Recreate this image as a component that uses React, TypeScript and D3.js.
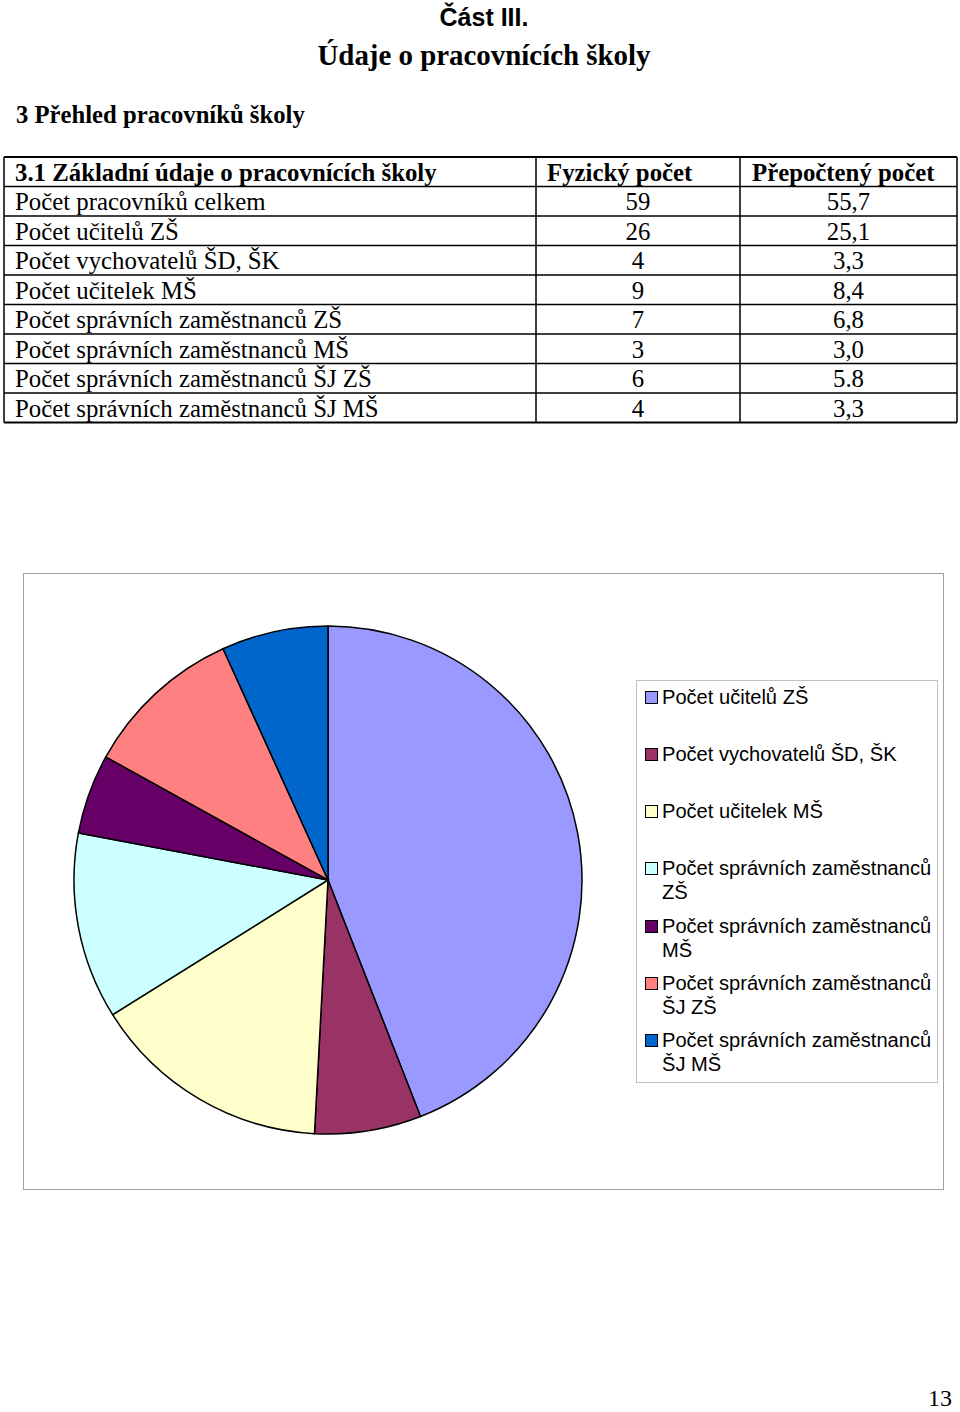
import React from "react";
import * as d3 from "d3";

const tableHeader = ["3.1 Základní údaje o pracovnících školy", "Fyzický počet", "Přepočtený počet"];
const rowLabels = [
  "Počet pracovníků celkem",
  "Počet učitelů ZŠ",
  "Počet vychovatelů ŠD, ŠK",
  "Počet učitelek MŠ",
  "Počet správních zaměstnanců ZŠ",
  "Počet správních zaměstnanců MŠ",
  "Počet správních zaměstnanců ŠJ ZŠ",
  "Počet správních zaměstnanců ŠJ MŠ",
];
const physical = ["59", "26", "4", "9", "7", "3", "6", "4"];
const converted = ["55,7", "25,1", "3,3", "8,4", "6,8", "3,0", "5.8", "3,3"];

const pieCategories = [
  ["Počet učitelů ZŠ"],
  ["Počet vychovatelů ŠD, ŠK"],
  ["Počet učitelek MŠ"],
  ["Počet správních zaměstnanců", "ZŠ"],
  ["Počet správních zaměstnanců", "MŠ"],
  ["Počet správních zaměstnanců", "ŠJ ZŠ"],
  ["Počet správních zaměstnanců", "ŠJ MŠ"],
];
const pieValues = [26, 4, 9, 7, 3, 6, 4];
const pieColors = ["#9999FF", "#993366", "#FFFFCC", "#CCFFFF", "#660066", "#FF8080", "#0066CC"];

const serif = "'Liberation Serif', 'Times New Roman', serif";
const sans = "'Liberation Sans', Arial, sans-serif";

export default function App() {
  const tX = [4, 536, 740, 957];
  const tY0 = 157;
  const rowH = 29.5;
  const nRows = rowLabels.length + 1;
  const yRow = d3.scaleLinear().domain([0, nRows]).range([tY0, tY0 + nRows * rowH]);
  const fs = 24.8;

  const cx = 328, cy = 880, r = 254;
  const pieGen = d3.pie<number>().sort(null).value((d) => d);
  const arcs = pieGen(pieValues);
  const arcGen = d3.arc<d3.PieArcDatum<number>>().innerRadius(0).outerRadius(r);

  const legendItemY = [697, 754, 811, 868, 926, 983, 1040];

  return (
    <svg width={960} height={1412} style={{ position: "absolute", left: 0, top: 0, background: "#fff" }}>
      <rect x={0} y={0} width={960} height={1412} fill="#fff" />
      <text x={484} y={26} textAnchor="middle" fontFamily={sans} fontWeight="bold" fontSize={25}>Část III.</text>
      <text x={484} y={65} textAnchor="middle" fontFamily={serif} fontWeight="bold" fontSize={28.9}>Údaje o pracovnících školy</text>
      <text x={16} y={123} fontFamily={serif} fontWeight="bold" fontSize={24.7}>3 Přehled pracovníků školy</text>

      <g>
        {d3.range(nRows + 1).map((i) => (
          <line key={"h" + i} x1={tX[0]} x2={tX[3]} y1={yRow(i)} y2={yRow(i)} stroke="#000" strokeWidth={i === 0 || i === nRows ? 1.8 : 1.3} />
        ))}
        {tX.map((x, i) => (
          <line key={"v" + i} x1={x} x2={x} y1={yRow(0)} y2={yRow(nRows)} stroke="#000" strokeWidth={1.5} />
        ))}
        <text x={15} y={yRow(0) + 23.5} fontFamily={serif} fontWeight="bold" fontSize={fs}>{tableHeader[0]}</text>
        <text x={tX[1] + 11} y={yRow(0) + 23.5} fontFamily={serif} fontWeight="bold" fontSize={fs}>{tableHeader[1]}</text>
        <text x={tX[2] + 12} y={yRow(0) + 23.5} fontFamily={serif} fontWeight="bold" fontSize={fs}>{tableHeader[2]}</text>
        {rowLabels.map((l, i) => (
          <g key={l}>
            <text x={15} y={yRow(i + 1) + 23.5} fontFamily={serif} fontSize={fs}>{l}</text>
            <text x={(tX[1] + tX[2]) / 2} y={yRow(i + 1) + 23.5} textAnchor="middle" fontFamily={serif} fontSize={fs}>{physical[i]}</text>
            <text x={(tX[2] + tX[3]) / 2} y={yRow(i + 1) + 23.5} textAnchor="middle" fontFamily={serif} fontSize={fs}>{converted[i]}</text>
          </g>
        ))}
      </g>

      <rect x={23.5} y={573.5} width={920} height={616} fill="#fff" stroke="#A0A0A0" strokeWidth={1} />
      <g transform={`translate(${cx},${cy})`}>
        {arcs.map((a, i) => (
          <path key={i} d={arcGen(a) || ""} fill={pieColors[i]} stroke="#000" strokeWidth={1.5} />
        ))}
      </g>

      <rect x={636.5} y={680.5} width={301} height={402} fill="#fff" stroke="#C0C0C0" strokeWidth={1} />
      {pieCategories.map((lines, i) => (
        <g key={i}>
          <rect x={645.5} y={legendItemY[i] - 5.5} width={12} height={12} fill={pieColors[i]} stroke="#000" strokeWidth={1} />
          {lines.map((t, j) => (
            <text key={j} x={662} y={legendItemY[i] + 7 + j * 24} fontFamily={sans} fontSize={20.1}>{t}</text>
          ))}
        </g>
      ))}

      <text x={940} y={1406} textAnchor="middle" fontFamily={serif} fontSize={24}>13</text>
    </svg>
  );
}
